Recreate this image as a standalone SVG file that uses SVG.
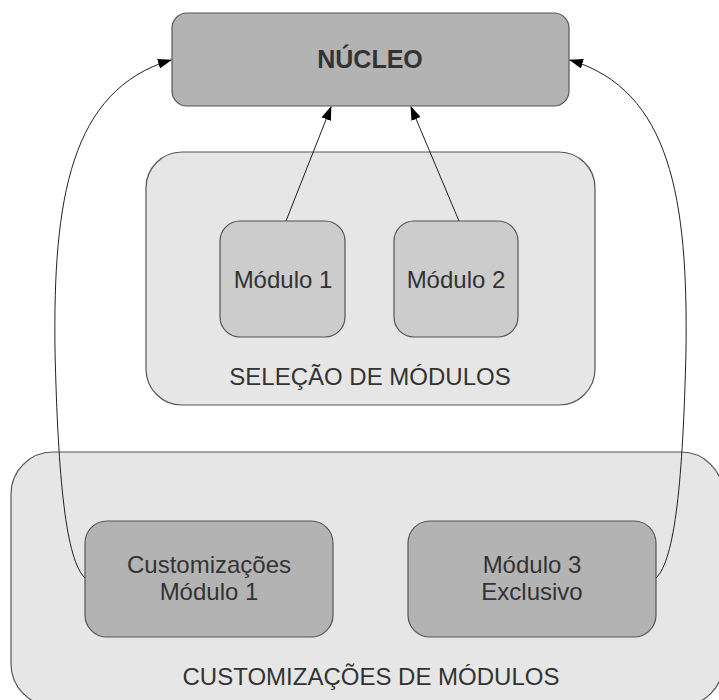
<svg xmlns="http://www.w3.org/2000/svg" width="719" height="700" viewBox="0 0 719 700">
<style>
.box{stroke:#555555;stroke-width:1.2}
.t{font-family:"Liberation Sans",Arial,sans-serif;fill:#333333;text-anchor:middle;font-size:24px}
.c{fill:none;stroke:#222222;stroke-width:1}
</style>
<defs>
<marker id="ah" markerWidth="14" markerHeight="10" refX="13" refY="5" orient="auto" markerUnits="userSpaceOnUse">
<path d="M0,0 L14,5 L0,10 Z" fill="#000000"/>
</marker>
</defs>
<rect width="719" height="700" fill="#ffffff"/>
<g id="customizacoes-group">
<rect class="box" x="11" y="452" width="712" height="254" rx="42" fill="#e6e6e6"/>
<text class="t" x="371" y="685">CUSTOMIZAÇÕES DE MÓDULOS</text>
</g>
<g id="selecao-group">
<rect class="box" x="146" y="152" width="449" height="253" rx="36" fill="#e6e6e6"/>
<text class="t" x="370" y="385">SELEÇÃO DE MÓDULOS</text>
</g>
<g id="nucleo">
<rect class="box" x="172" y="13" width="397" height="93" rx="15" fill="#b3b3b3"/>
<text class="t" x="370" y="68" style="font-size:25px" font-weight="bold">NÚCLEO</text>
</g>
<g id="modulo1">
<rect class="box" x="220" y="221" width="125" height="116" rx="20" fill="#cccccc"/>
<text class="t" x="283" y="288">Módulo 1</text>
</g>
<g id="modulo2">
<rect class="box" x="394" y="221" width="124" height="116" rx="20" fill="#cccccc"/>
<text class="t" x="456" y="288">Módulo 2</text>
</g>
<g id="custom-modulo1">
<rect class="box" x="85" y="521" width="248" height="116" rx="22" fill="#b3b3b3"/>
<text class="t" x="209" y="573">Customizações</text>
<text class="t" x="209" y="600">Módulo 1</text>
</g>
<g id="modulo3">
<rect class="box" x="408" y="521" width="248" height="116" rx="22" fill="#b3b3b3"/>
<text class="t" x="532" y="573">Módulo 3</text>
<text class="t" x="532" y="600">Exclusivo</text>
</g>
<g id="connectors">
<path class="c" d="M286,221 L331,107" marker-end="url(#ah)"/>
<path class="c" d="M459,221 L411,107" marker-end="url(#ah)"/>
<path class="c" d="M85,578 C66,560 58,480 55,350 C53,200 70,90 171,60" marker-end="url(#ah)"/>
<path class="c" d="M656,578 C675,560 683,480 686,350 C688,200 671,90 570,60" marker-end="url(#ah)"/>
</g>
</svg>
